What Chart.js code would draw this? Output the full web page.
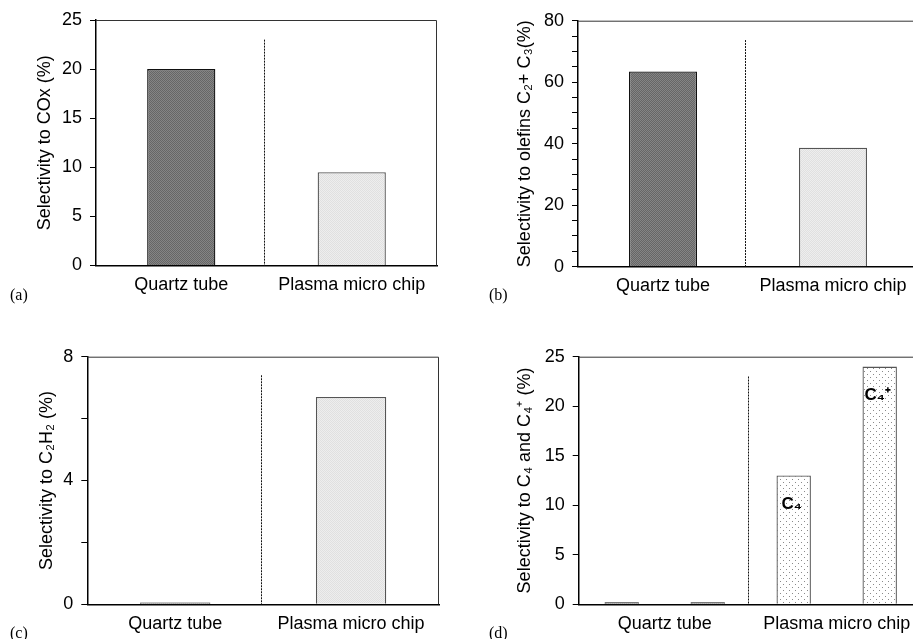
<!DOCTYPE html>
<html>
<head>
<meta charset="utf-8">
<script src="https://cdn.jsdelivr.net/npm/chart.js@4.4.0/dist/chart.umd.min.js"></script>
<style>
html, body { margin: 0; padding: 0; background: #fff; overflow: hidden; width: 913px; height: 639px; }
.panel { position: absolute; }
.panel canvas { display: block; }
.tag { position: absolute; font-family: "Liberation Serif", "Times New Roman", serif; font-size: 16px; line-height: 16px; color: #000; }
</style>
</head>
<body>
<div class="panel" style="left:0;top:0"><canvas id="chart-a" width="456" height="320"></canvas></div>
<div class="panel" style="left:453px;top:0"><canvas id="chart-b" width="480" height="320"></canvas></div>
<div class="panel" style="left:0;top:320px"><canvas id="chart-c" width="456" height="319"></canvas></div>
<div class="panel" style="left:453px;top:320px"><canvas id="chart-d" width="480" height="319"></canvas></div>
<div class="tag" style="left:10px;top:287px">(a)</div>
<div class="tag" style="left:489px;top:287px">(b)</div>
<div class="tag" style="left:10px;top:625px">(c)</div>
<div class="tag" style="left:489px;top:625px">(d)</div>
<script>
// reactors compared
const categories = ['Quartz tube', 'Plasma micro chip'];

// selectivities (%)
const coxValues = [20, 9.5];
const olefinValues = [63.5, 38.7];
const acetyleneValues = [0.06, 6.7];
const c4Values = [0.2, 13];
const c4PlusValues = [0.2, 24];
const c4Notes = ['C\u2084', 'C\u2084\u207A'];

// labelled y ticks
const coxTicks = [0, 5, 10, 15, 20, 25];
const olefinTicks = [0, 20, 40, 60, 80];
const acetyleneTicks = [0, 4, 8];
const c4Ticks = [0, 5, 10, 15, 20, 25];

// where the dotted separator stops (in y units)
const separatorTops = [23, 73.7, 7.4, 23];

const FONT = { family: '"Liberation Sans", Arial, sans-serif', size: 18 };
const TICK_FONT = { family: '"Liberation Sans", Arial, sans-serif', size: 18 };

function makePattern(size, base, dots, dotColor) {
    const c = document.createElement('canvas');
    c.width = size; c.height = size;
    const g = c.getContext('2d');
    g.fillStyle = base;
    g.fillRect(0, 0, size, size);
    g.fillStyle = dotColor;
    dots.forEach(d => g.fillRect(d[0], d[1], 1, 1));
    return g.createPattern(c, 'repeat');
}

const darkFill = makePattern(2, '#858585', [[0, 0], [1, 1]], '#666666');
const lightFill = makePattern(2, '#eeeeee', [[0, 0], [1, 1]], '#e0e0e0');
const dotFill = makePattern(6, '#ffffff', [[0, 0], [3, 3]], '#8a8a8a');

// box top/right edges + dotted separator between the two reactors
const framePlugin = {
    id: 'frame',
    afterDraw(chart, args, opts) {
        const { ctx, chartArea: a, scales: { x, y } } = chart;
        ctx.save();
        ctx.strokeStyle = '#333';
        ctx.lineWidth = 1;
        ctx.beginPath();
        ctx.moveTo(a.left, a.top + 0.5);
        ctx.lineTo(a.right - 0.5, a.top + 0.5);
        ctx.lineTo(a.right - 0.5, a.bottom);
        ctx.stroke();
        const sx = Math.round(x.getPixelForValue(opts.sepAt)) + 0.5;
        ctx.setLineDash([2, 1]);
        ctx.strokeStyle = '#111';
        ctx.beginPath();
        ctx.moveTo(sx, y.getPixelForValue(opts.sepTop));
        ctx.lineTo(sx, a.bottom);
        ctx.stroke();
        ctx.restore();
    }
};

// C4 / C4+ labels inside the plasma bars
const notePlugin = {
    id: 'notes',
    afterDatasetsDraw(chart, args, opts) {
        if (!opts.notes) return;
        const ctx = chart.ctx;
        ctx.save();
        ctx.font = 'bold 17px "Liberation Sans", Arial, sans-serif';
        ctx.fillStyle = '#000';
        ctx.textAlign = 'center';
        ctx.textBaseline = 'middle';
        opts.notes.forEach((t, i) => {
            const bar = chart.getDatasetMeta(i).data[1];
            ctx.fillText(t, bar.x - 2, bar.y + 29);
        });
        ctx.restore();
    }
};

function buildChart(id, datasets, o) {
    return new Chart(document.getElementById(id), {
        type: 'bar',
        data: { labels: categories, datasets: datasets },
        plugins: [framePlugin, notePlugin],
        options: {
            responsive: false,
            animation: false,
            layout: { padding: { top: o.top, right: o.right, left: 0, bottom: 0 } },
            plugins: {
                legend: { display: false },
                tooltip: { enabled: false },
                frame: { sepAt: 0.485, sepTop: o.sepTop },
                notes: { notes: o.notes }
            },
            scales: {
                x: {
                    afterFit: s => { s.height = o.xHeight; },
                    border: { display: true, color: '#000', width: 1.5 },
                    grid: { display: false, drawTicks: false },
                    ticks: { color: '#000', font: FONT, padding: 9, maxRotation: 0, autoSkip: false }
                },
                y: {
                    min: 0,
                    max: o.max,
                    afterFit: s => { s.width = o.yWidth; },
                    border: { display: true, color: '#000', width: 1.5 },
                    grid: { drawOnChartArea: false, drawTicks: true, tickLength: 6, color: '#000' },
                    ticks: {
                        stepSize: o.step,
                        padding: 8,
                        color: '#000',
                        font: TICK_FONT,
                        autoSkip: false,
                        callback: v => o.labels.includes(v) ? v : ''
                    },
                    title: {
                        display: true,
                        text: o.title,
                        color: '#000',
                        font: FONT,
                        padding: { top: o.titlePad, bottom: 0 }
                    }
                }
            }
        }
    });
}

function singleSet(values) {
    return [{
        data: values,
        backgroundColor: [darkFill, lightFill],
        borderColor: ['#111', '#555'],
        borderWidth: 1.3,
        barPercentage: 0.4,
        categoryPercentage: 1
    }];
}

buildChart('chart-a', singleSet(coxValues), {
    top: 20, right: 19, xHeight: 54.5, yWidth: 96, max: 25, step: 5, labels: coxTicks,
    title: 'Selectivity to COx (%)', titlePad: 34.2, sepTop: separatorTops[0]
});

buildChart('chart-b', singleSet(olefinValues), {
    top: 20.7, right: 15, xHeight: 53.3, yWidth: 125, max: 80, step: 5, labels: olefinTicks,
    title: 'Selectivity to olefins C\u2082+ C\u2083(%)', titlePad: 60.9, sepTop: separatorTops[1]
});

buildChart('chart-c', singleSet(acetyleneValues), {
    top: 36.7, right: 17, xHeight: 34.7, yWidth: 87.3, max: 8, step: 2, labels: acetyleneTicks,
    title: 'Selectivity to C\u2082H\u2082 (%)', titlePad: 35.9, sepTop: separatorTops[2]
});

buildChart('chart-d', [
    { data: c4Values, backgroundColor: [darkFill, dotFill], borderColor: ['#111', '#555'], borderWidth: 1.3, barPercentage: 0.4, categoryPercentage: 1 },
    { data: c4PlusValues, backgroundColor: [darkFill, dotFill], borderColor: ['#111', '#555'], borderWidth: 1.3, barPercentage: 0.4, categoryPercentage: 1 }
], {
    top: 36.7, right: 10.3, xHeight: 34.7, yWidth: 125.7, max: 25, step: 5, labels: c4Ticks,
    title: 'Selectivity to C\u2084 and C\u2084\u207A (%)', titlePad: 60.9, sepTop: separatorTops[3], notes: c4Notes
});
</script>
</body>
</html>
